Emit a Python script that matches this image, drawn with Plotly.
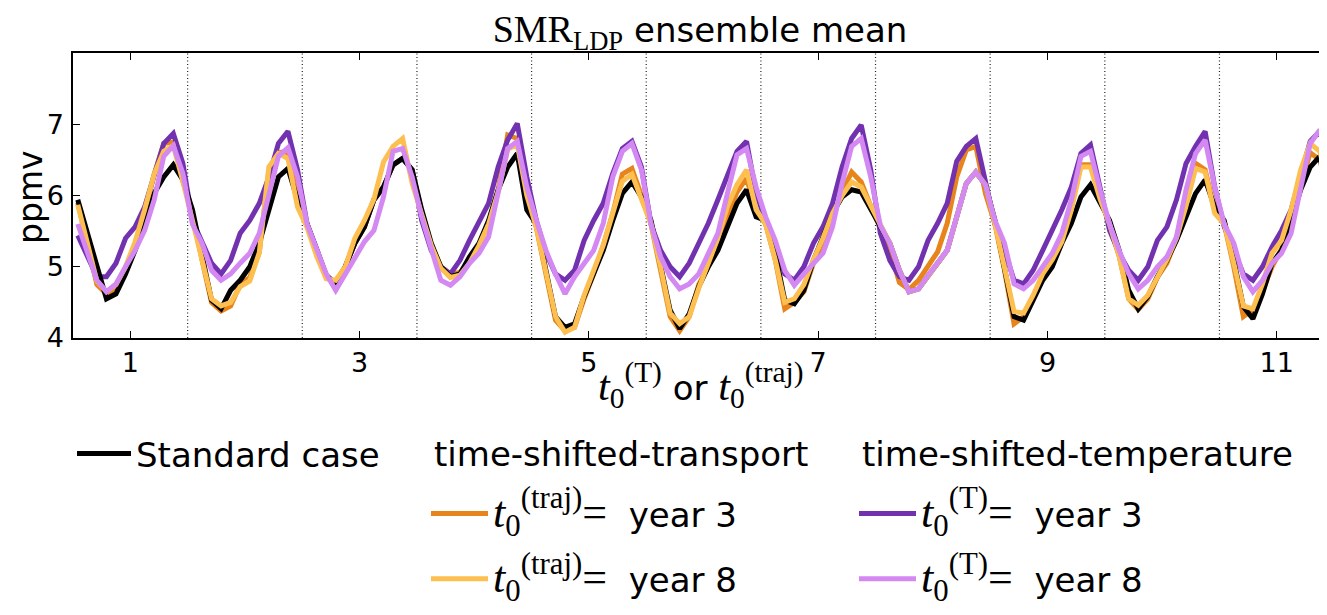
import plotly.graph_objects as go

# ---------------- data ----------------
years = list(range(1, 12))          # year index 1..11
months_per_year = 12
xtick_vals = [1, 3, 5, 7, 9, 11]
ytick_vals = [4, 5, 6, 7]

standard = [
    5.94, 5.47, 5.00, 4.55, 4.62, 4.90, 5.23, 5.60, 6.03, 6.26, 6.43, 6.22,
    5.80, 5.14, 4.53, 4.41, 4.67, 4.81, 5.00, 5.33, 5.80, 6.26, 6.38, 5.94,
    5.60, 5.25, 4.88, 4.76, 5.00, 5.33, 5.56, 5.94, 6.12, 6.43, 6.52, 6.36,
    5.80, 5.33, 5.00, 4.86, 4.90, 5.14, 5.33, 5.65, 6.08, 6.40, 6.59, 5.80,
    5.60, 4.95, 4.30, 4.15, 4.20, 4.58, 4.90, 5.23, 5.65, 6.03, 6.19, 5.98,
    5.65, 5.05, 4.39, 4.13, 4.34, 4.72, 5.00, 5.23, 5.56, 5.89, 6.08, 5.70,
    5.65, 5.19, 4.53, 4.48, 4.67, 5.09, 5.42, 5.75, 5.98, 6.08, 6.05, 5.80,
    5.58, 5.33, 4.95, 4.65, 4.69, 4.88, 5.07, 5.23, 5.70, 6.17, 6.33, 6.15,
    5.65, 5.00, 4.30, 4.25, 4.53, 4.81, 5.00, 5.33, 5.61, 5.98, 6.15, 5.89,
    5.65, 5.23, 4.67, 4.41, 4.58, 4.86, 5.09, 5.37, 5.70, 6.03, 6.22, 5.84,
    5.65, 5.09, 4.44, 4.27, 4.62, 5.05, 5.23, 5.65, 6.08, 6.40, 6.55, 5.98,
]

traj_year3 = [
    5.90, 5.30, 4.75, 4.62, 4.70, 4.95, 5.30, 5.75, 6.30, 6.73, 6.75, 6.20,
    5.75, 5.10, 4.50, 4.38, 4.45, 4.75, 4.85, 5.20, 6.35, 6.60, 6.62, 5.95,
    5.60, 5.25, 4.88, 4.76, 5.00, 5.33, 5.56, 5.94, 6.12, 6.43, 6.52, 6.36,
    5.75, 5.30, 5.00, 4.90, 4.92, 5.08, 5.30, 5.60, 6.08, 6.85, 6.80, 6.00,
    5.55, 4.90, 4.25, 4.10, 4.15, 4.55, 4.90, 5.30, 5.75, 6.30, 6.38, 6.00,
    5.60, 4.95, 4.30, 4.10, 4.30, 4.75, 5.00, 5.35, 5.70, 6.05, 6.24, 5.80,
    5.60, 5.10, 4.41, 4.50, 4.65, 5.05, 5.35, 5.70, 6.05, 6.33, 6.19, 5.85,
    5.55, 5.23, 4.78, 4.68, 4.81, 5.00, 5.21, 5.61, 6.26, 6.64, 6.69, 6.03,
    5.60, 4.95, 4.20, 4.30, 4.55, 4.90, 5.10, 5.40, 5.85, 6.43, 6.43, 6.00,
    5.60, 5.15, 4.55, 4.40, 4.55, 4.85, 5.05, 5.40, 5.90, 6.45, 6.36, 5.80,
    5.60, 5.00, 4.30, 4.40, 4.65, 5.00, 5.25, 5.65, 6.15, 6.60, 6.50, 6.00,
]

traj_year8 = [
    5.87, 5.30, 4.80, 4.65, 4.75, 5.00, 5.35, 5.80, 6.30, 6.62, 6.70, 6.20,
    5.65, 5.05, 4.55, 4.45, 4.50, 4.72, 4.80, 5.20, 6.40, 6.59, 6.52, 5.84,
    5.55, 5.15, 4.83, 4.81, 5.00, 5.40, 5.65, 5.95, 6.47, 6.69, 6.80, 6.17,
    5.75, 5.30, 4.98, 4.85, 4.88, 5.05, 5.30, 5.60, 6.05, 6.65, 6.72, 6.00,
    5.55, 4.95, 4.30, 4.08, 4.15, 4.60, 4.95, 5.30, 5.75, 6.20, 6.30, 5.95,
    5.60, 5.00, 4.35, 4.20, 4.30, 4.70, 5.05, 5.40, 5.85, 6.15, 6.36, 5.80,
    5.60, 5.10, 4.50, 4.55, 4.75, 5.10, 5.40, 5.75, 6.00, 6.19, 6.12, 5.85,
    5.58, 5.33, 4.95, 4.65, 4.69, 4.88, 5.07, 5.23, 5.70, 6.17, 6.33, 6.15,
    5.60, 5.00, 4.37, 4.35, 4.60, 4.90, 5.10, 5.35, 5.80, 6.40, 6.40, 5.95,
    5.60, 5.15, 4.55, 4.46, 4.60, 4.85, 5.10, 5.40, 5.85, 6.38, 6.33, 5.75,
    5.60, 5.05, 4.45, 4.41, 4.76, 5.19, 5.37, 5.80, 6.36, 6.73, 6.62, 6.10,
]

temp_year3 = [
    5.44, 5.14, 4.86, 4.86, 5.05, 5.40, 5.56, 5.84, 6.26, 6.73, 6.87, 6.45,
    5.65, 5.33, 5.05, 4.90, 5.09, 5.47, 5.65, 5.89, 6.26, 6.73, 6.90, 6.36,
    5.60, 5.25, 4.88, 4.76, 5.00, 5.33, 5.56, 5.94, 6.12, 6.43, 6.52, 6.36,
    5.65, 5.23, 5.00, 4.90, 5.09, 5.37, 5.65, 5.89, 6.40, 6.78, 7.01, 6.26,
    5.65, 5.19, 4.90, 4.81, 4.95, 5.37, 5.65, 5.89, 6.31, 6.66, 6.76, 6.40,
    5.60, 5.23, 5.00, 4.86, 5.05, 5.33, 5.61, 5.94, 6.26, 6.62, 6.76, 6.03,
    5.65, 5.33, 4.90, 4.81, 5.00, 5.33, 5.56, 5.89, 6.40, 6.80, 6.99, 6.36,
    5.47, 5.09, 4.86, 4.81, 5.00, 5.37, 5.61, 5.89, 6.48, 6.69, 6.80, 6.20,
    5.60, 5.23, 4.81, 4.76, 4.95, 5.23, 5.51, 5.80, 6.12, 6.59, 6.71, 6.10,
    5.51, 5.19, 4.95, 4.81, 5.00, 5.37, 5.56, 5.94, 6.45, 6.69, 6.90, 6.12,
    5.56, 5.23, 4.90, 4.81, 5.00, 5.28, 5.51, 5.80, 6.26, 6.76, 6.90, 6.50,
]

temp_year8 = [
    5.60, 5.23, 4.81, 4.65, 4.76, 5.00, 5.23, 5.51, 5.94, 6.55, 6.70, 6.31,
    5.60, 5.33, 4.95, 4.81, 4.90, 5.05, 5.19, 5.47, 5.98, 6.55, 6.67, 6.26,
    5.60, 5.25, 4.90, 4.67, 4.90, 5.14, 5.35, 5.51, 5.98, 6.62, 6.66, 6.26,
    5.70, 5.25, 4.81, 4.74, 4.86, 5.05, 5.19, 5.42, 6.03, 6.66, 6.76, 6.12,
    5.65, 5.23, 4.90, 4.62, 4.86, 5.05, 5.23, 5.61, 6.26, 6.62, 6.73, 6.36,
    5.60, 5.14, 4.86, 4.69, 4.76, 4.90, 5.19, 5.47, 6.03, 6.57, 6.66, 6.12,
    5.70, 5.37, 4.95, 4.74, 4.90, 5.05, 5.19, 5.56, 6.17, 6.69, 6.80, 6.26,
    5.58, 5.33, 4.95, 4.65, 4.69, 4.88, 5.07, 5.23, 5.70, 6.17, 6.33, 6.15,
    5.65, 5.33, 4.76, 4.69, 4.81, 5.00, 5.19, 5.47, 5.94, 6.55, 6.62, 6.08,
    5.60, 5.23, 4.90, 4.69, 4.81, 5.00, 5.14, 5.42, 6.08, 6.59, 6.78, 6.12,
    5.60, 5.33, 4.86, 4.65, 4.81, 5.05, 5.19, 5.47, 6.08, 6.73, 6.92, 6.50,
]

# monthly x positions (mid-month within each year, year k spans k-0.5..k+0.5)
x = [yr - 0.5 + (m + 0.5) / months_per_year for yr in years for m in range(months_per_year)]

MATH = "Liberation Serif"
SANS = "DejaVu Sans"

def m(s, size=None):
    st = f"font-family:{MATH}"
    if size:
        st += f";font-size:{size}px"
    return f'<span style="{st}">{s}</span>'

t_traj = m("<i>t</i><sub>0</sub><sup>(traj)</sup>=", 44)
t_T = m("<i>t</i><sub>0</sub><sup>(T)</sup>=", 44)

# drawing order: year-3 cases first, then standard, then year-8 cases on top
series = [
    dict(y=traj_year3, name=f"{t_traj}&nbsp; year 3", color="#e8841c", legend="legend2", rank=2),
    dict(y=temp_year3, name=f"{t_T}&nbsp; year 3", color="#7232b0", legend="legend3", rank=4),
    dict(y=standard, name="Standard case", color="#000000", legend="legend", rank=1),
    dict(y=traj_year8, name=f"{t_traj}&nbsp; year 8", color="#fdbf4f", legend="legend2", rank=3),
    dict(y=temp_year8, name=f"{t_T}&nbsp; year 8", color="#d488f2", legend="legend3", rank=5),
]

fig = go.Figure()
for i, s in enumerate(series):
    fig.add_trace(go.Scatter(
        x=x, y=s["y"], mode="lines", name=s["name"],
        line=dict(color=s["color"], width=5),
        legend=s["legend"], legendrank=s["rank"], legendgroup=f"g{i}",
    ))

# dotted year separators
for yr in years[:-1]:
    fig.add_vline(x=yr + 0.5, line=dict(color="#222222", width=1.2, dash="1px,2.5px"), layer="below")

# the page body adds an 8px offset; figure sized so the page is exactly filled
OFF = 8
W, H = 1319, 607
L, R, T, B = 65, 0, 45, 277
pw = W - L - R
ph = H - T - B

def px2paper_x(page_px):
    return (page_px - OFF - L) / pw

def py2paper_y(page_py):
    return (H - B - (page_py - OFF)) / ph

legend_font = dict(family=SANS, size=34, color="black")
common_leg = dict(xanchor="left", yanchor="top", font=legend_font, bgcolor="rgba(0,0,0,0)",
                  borderwidth=0, tracegroupgap=18)

fig.update_layout(
    width=W, height=H,
    margin=dict(l=L, r=R, t=T, b=B, pad=0),
    paper_bgcolor="white", plot_bgcolor="white",
    title=dict(text=m("SMR<sub>LDP</sub>", 38) + " ensemble mean",
               font=dict(family=SANS, size=34, color="black"),
               x=0.5, xref="paper", xanchor="center",
               y=1 - (30 - OFF) / H, yref="container", yanchor="middle"),
    xaxis=dict(range=[0.5, 11.438], tickvals=xtick_vals, ticks="inside", ticklen=7, tickwidth=1.2,
               tickcolor="black", showline=True, linecolor="black", linewidth=1.5, mirror="ticks",
               showgrid=False, zeroline=False, tickfont=dict(family=SANS, size=27, color="black")),
    yaxis=dict(range=[4, 8], tickvals=ytick_vals, ticks="inside", ticklen=7, tickwidth=1.2,
               tickcolor="black", showline=True, linecolor="black", linewidth=1.5,
               ticklabelstandoff=2,
               showgrid=False, zeroline=False, tickfont=dict(family=SANS, size=27, color="black")),
    legend=dict(x=px2paper_x(72), y=py2paper_y(425), itemwidth=54, **common_leg),
    legend2=dict(x=px2paper_x(426), y=py2paper_y(485), itemwidth=57, **common_leg),
    legend3=dict(x=px2paper_x(854), y=py2paper_y(485), itemwidth=57, **common_leg),
    showlegend=True,
)

# legend group headers
for label, page_x in [("time-shifted-transport", 432), ("time-shifted-temperature", 860)]:
    fig.add_annotation(text=label, xref="paper", yref="paper",
                       x=px2paper_x(page_x), y=py2paper_y(454), xanchor="left", yanchor="middle",
                       showarrow=False, font=legend_font)

# axis labels
fig.add_annotation(text=m("<i>t</i><sub>0</sub><sup>(T)</sup>", 42) + " or " + m("<i>t</i><sub>0</sub><sup>(traj)</sup>", 42),
                   xref="paper", yref="paper", x=0.5, y=py2paper_y(385),
                   xanchor="center", yanchor="middle", showarrow=False,
                   font=dict(family=SANS, size=34, color="black"))
fig.add_annotation(text="ppmv", textangle=-90, xref="paper", yref="paper",
                   x=px2paper_x(30), y=py2paper_y(197), xanchor="center", yanchor="middle",
                   showarrow=False, font=dict(family=SANS, size=33, color="black"))

fig.write_html("out.html")
